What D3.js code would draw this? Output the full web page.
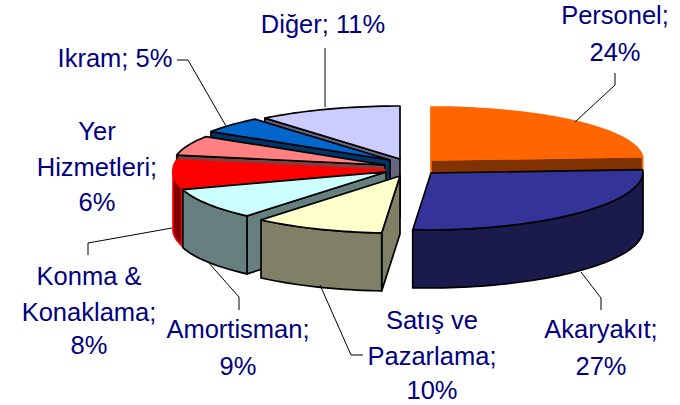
<!DOCTYPE html>
<html>
<head>
<meta charset="utf-8">
<script src="https://cdn.jsdelivr.net/npm/d3@7"></script>
<style>
  html, body { margin: 0; padding: 0; background: #fff; }
  text { font-family: "Liberation Sans", Arial, sans-serif; font-size: 25.5px; fill: #000080; text-anchor: middle; }
</style>
</head>
<body>
<svg id="chart" width="680" height="405"></svg>
<script>
// Exploded 3D pie. Slices run clockwise from 12 o'clock.
const categories = ["Personel", "Akaryakıt", "Satış ve Pazarlama", "Amortisman", "Konma & Konaklama", "Yer Hizmetleri", "Ikram", "Diğer"];
const shares = [24, 27, 10, 9, 8, 6, 5, 11];
const topColors = ["#ff6600", "#333399", "#ffffcc", "#ccffff", "#ff0000", "#ff8080", "#0066cc", "#ccccff"];
const sideColors = ["#803300", "#1a1a4d", "#808066", "#668080", "#800000", "#804040", "#003366", "#666680"];

const W = 680, H = 405;
const RX = 212, RY_BACK = 53, RY_FRONT = 57, DEPTH = 58;
const FRONT_SKEW = 5; // near half of the ellipse leans left a little, as in a perspective view

// layout: where each exploded slice has its tip
const tips = [[431, 160], [431, 173], [400, 176], [386, 172], [385, 170], [385, 165], [390, 160], [400, 159]];
// layout: slices with no black outline
const edgeColors = ["#ff6600", "#000", "#000", "#000", "#ff0000", "#000", "#000", "#000"];
// back to front
const drawOrder = [0, 7, 6, 5, 4, 3, 2, 1];

const labels = [
  { lines: ["Personel;", "24%"], x: 615, y: [24, 61] },
  { lines: ["Akaryakıt;", "27%"], x: 601, y: [338, 375] },
  { lines: ["Satış ve", "Pazarlama;", "10%"], x: 432, y: [329, 365, 399] },
  { lines: ["Amortisman;", "9%"], x: 238, y: [338, 375] },
  { lines: ["Konma &", "Konaklama;", "8%"], x: 89, y: [285, 321, 354] },
  { lines: ["Yer", "Hizmetleri;", "6%"], x: 97, y: [140, 176, 211] },
  { lines: ["Ikram; 5%"], x: 115, y: [67] },
  { lines: ["Diğer; 11%"], x: 323, y: [33] }
];
const leaders = [
  [[575, 122], [615, 85], [615, 73]],
  [[581, 272], [601, 298], [601, 310]],
  [[320, 285], [351, 355], [363, 355]],
  [[208, 262], [239, 297], [239, 310]],
  [[172, 228], [88, 243], [88, 255]],
  [[226, 126], [188, 60], [177, 60]],
  [[325, 107], [325, 48]]
];

const svg = d3.select("#chart");

// d3.pie gives the angles, sort(null) keeps the category order
const arcs = d3.pie().sort(null)(shares);

// x/y scales map the unit circle to the flattened ellipse
const sx = d3.scaleLinear().domain([-1, 1]).range([-RX, RX]);
const sy = d3.scaleLinear().domain([-1, 0, 1]).range([-RY_BACK, 0, RY_FRONT]);
const rim = (tip, a) => {
  const c = Math.cos(a);
  return [tip[0] + sx(Math.sin(a)) + (c < 0 ? FRONT_SKEW * c : 0), tip[1] + sy(-c)];
};
const lineGen = d3.line();

function rimPoints(tip, a0, a1) {
  const n = Math.max(2, Math.ceil((a1 - a0) / 0.03));
  return d3.range(n + 1).map(i => rim(tip, a0 + (a1 - a0) * i / n));
}

drawOrder.forEach(i => {
  const tip = tips[i], a0 = arcs[i].startAngle, a1 = arcs[i].endAngle;
  const g = svg.append("g")
    .attr("stroke", edgeColors[i])
    .attr("stroke-width", 1.7)
    .attr("stroke-linejoin", "round");
  const down = p => [p[0], p[1] + DEPTH];

  // cut faces, skip the ones turned away from the viewer
  const faces = [];
  if (Math.sin(a0) < 0) faces.push(a0);
  if (Math.sin(a1) > 0) faces.push(a1);
  faces.forEach(a => {
    const p = rim(tip, a);
    g.append("path").attr("fill", sideColors[i])
      .attr("d", lineGen([tip, p, down(p), down(tip)]) + "Z");
  });

  // outer wall, only the part on the near half of the ellipse
  const w0 = Math.max(a0, Math.PI / 2), w1 = Math.min(a1, Math.PI * 1.5);
  if (w1 > w0) {
    const edge = rimPoints(tip, w0, w1);
    g.append("path").attr("fill", sideColors[i])
      .attr("d", lineGen(edge.concat(edge.map(down).reverse())) + "Z");
  }

  // top
  g.append("path").attr("fill", topColors[i])
    .attr("d", lineGen([tip].concat(rimPoints(tip, a0, a1))) + "Z");
});

// leader lines
leaders.forEach(pts => {
  svg.append("path").attr("d", lineGen(pts))
    .attr("fill", "none").attr("stroke", "#000").attr("stroke-width", 1);
});

// labels
labels.forEach(l => {
  const t = svg.append("text");
  l.lines.forEach((s, k) => {
    t.append("tspan").attr("x", l.x).attr("y", l.y[k]).text(s);
  });
});
</script>
</body>
</html>
